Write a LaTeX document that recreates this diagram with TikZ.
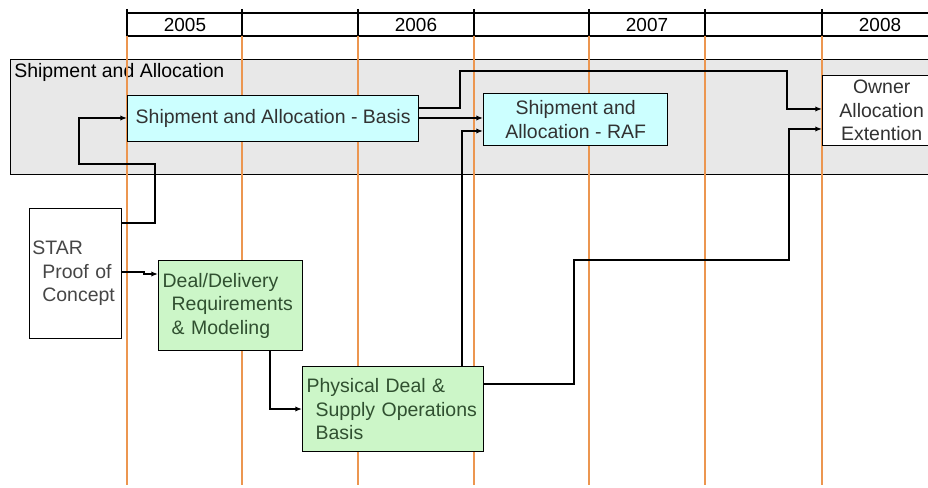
\documentclass[tikz,border=0pt]{standalone}
\usepackage{fontspec}
\setmainfont{Liberation Sans}
\usetikzlibrary{arrows.meta}
\definecolor{yearline}{RGB}{236,150,80}
\definecolor{bandgray}{RGB}{232,232,232}
\definecolor{basecyan}{RGB}{204,255,255}
\definecolor{basegreen}{RGB}{204,246,200}
\definecolor{boxtext}{RGB}{50,50,50}
\definecolor{greentext}{RGB}{48,80,48}
\newcommand\boxfont{\fontsize{14.6pt}{17.6pt}\selectfont}
\tikzset{
  sz/.style 2 args={minimum width=#1*0.75pt, minimum height=#2*0.75pt},
  box/.style={draw=black, line width=1pt, inner sep=0pt, anchor=north west,
              font=\boxfont, text=boxtext},
  yr/.style={draw=yearline, line width=1.4pt},
  grid/.style={draw=black, line width=1pt},
  conn/.style={draw=black, line width=1pt},
  arr/.style={conn, -{Latex[length=5pt,width=4pt]}},
  year/.style={font=\fontsize{14.2pt}{16pt}\selectfont, inner sep=0pt},
}
\begin{document}
\begin{tikzpicture}[x=0.75pt, y=-0.75pt, line join=miter]
\useasboundingbox (0,0) rectangle (928,488);
\clip (0,0) rectangle (928,488);
\fill[white] (0,0) rectangle (928,488);

% timeline header
\draw[grid] (127,13) -- (940,13);
\draw[grid] (127,36) -- (940,36);
\foreach \x in {127,242,358,474,589,705,822}
  \draw[grid] (\x,9) -- (\x,36);
\node[year] (y2005) at (185,25) {2005};
\node[year] (y2006) at (416,25) {2006};
\node[year] (y2007) at (647,25) {2007};
\node[year] (y2008) at (880,25) {2008};

% shipment and allocation band
\node[box, fill=bandgray, sz={935}{115}] (band) at (10,59) {};
\node[anchor=west, inner sep=0pt, font=\boxfont, text=black] (bandlbl) at (14,72) {Shipment and Allocation};

% half-year guide lines
\foreach \x in {127,242,358,474,589,705,822}
  \draw[yr] (\x,36) -- (\x,485);

% work packages
\node[box, fill=basecyan, sz={291}{46}] (basis) at (127,95) {Shipment and Allocation - Basis};
\node[box, fill=basecyan, sz={184}{52}, align=center] (raf) at (483,93) {Shipment and\\Allocation - RAF};
\node[box, fill=white, sz={118}{70}, align=center] (owner) at (822,75) {Owner\\Allocation\\Extention};
\node[box, fill=white, sz={92}{130}, inner xsep=2pt, text width=65pt, align=left, text=boxtext!90] (star) at (29,208)
  {STAR\\\hspace*{7.5pt}Proof of\\\hspace*{7.5pt}Concept};
\node[box, fill=basegreen, sz={144}{90}, inner xsep=3pt, text width=102pt, align=left, text=greentext] (deal) at (158,260)
  {Deal/Delivery\\\hspace*{6.75pt}Requirements\\\hspace*{6.75pt}\& Modeling};
\node[box, fill=basegreen, sz={181}{85}, inner xsep=3pt, text width=129.75pt, align=left, text=greentext] (phys) at (302,366)
  {Physical Deal \&\\\hspace*{6.75pt}Supply Operations\\\hspace*{6.75pt}Basis};

% dependencies
\draw[arr] (star.east |- 0,223) -- (155,223) -- (155,164) -- (79,164) -- (79,118) -- (basis.west |- 0,118);
\draw[arr] (star.east |- 0,272) -- (144,272) -- (144,274) -- (deal.west |- 0,274);
\draw[arr] (deal.south -| 270,0) -- (270,409) -- (phys.west |- 0,409);
\draw[arr] (basis.east |- 0,118) -- (raf.west |- 0,118);
\draw[arr] (basis.east |- 0,108) -- (460,108) -- (460,71) -- (787,71) -- (787,109) -- (owner.west |- 0,109);
\draw[arr] (phys.north -| 462,0) -- (462,131) -- (raf.west |- 0,131);
\draw[arr] (phys.east |- 0,384) -- (574,384) -- (574,260) -- (789,260) -- (789,129) -- (owner.west |- 0,129);
\end{tikzpicture}
\end{document}
